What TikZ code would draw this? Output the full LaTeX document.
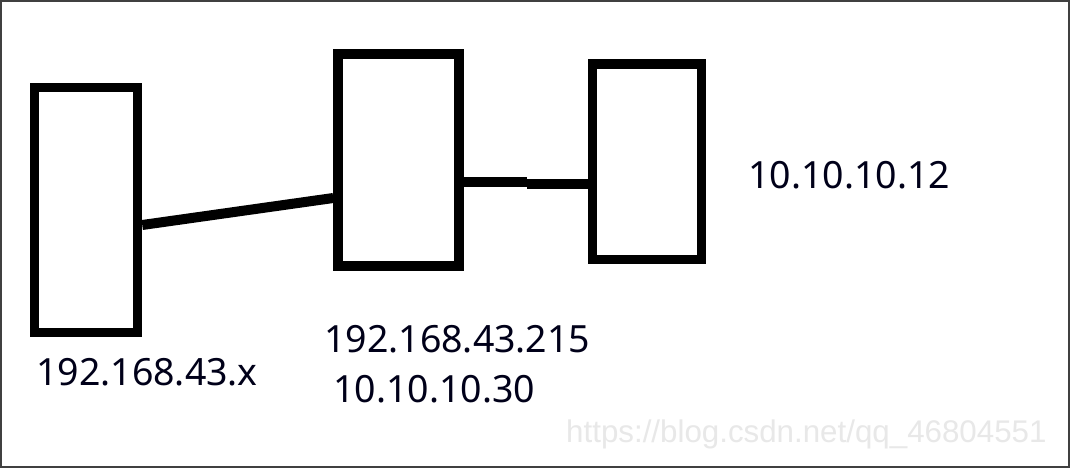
\documentclass[tikz,border=0pt]{standalone}
\usepackage{fontspec}
\setmainfont{Noto Sans}
\newfontfamily\wmfont{Liberation Sans}
\begin{document}
\begin{tikzpicture}[x=1pt,y=-1pt,
  devbox/.style={draw=black,line width=9.5pt,inner sep=0pt,fill=white},
  link/.style={draw=black,line width=10pt},
  iplabel/.style={anchor=base west,inner sep=0pt,font=\fontsize{37.5}{40}\selectfont,text=black!90!blue},
  wm/.style={anchor=base west,inner sep=0pt,font=\wmfont\fontsize{31.3}{34}\selectfont,text=black!9}]
\useasboundingbox (0,0) rectangle (1070,468);
\fill[white] (0,0) rectangle (1070,468);
\draw[line width=2pt,draw=black!75] (1,1) rectangle (1069,467);
% boxes
\node[devbox,minimum width=103pt,minimum height=245pt] (b1) at (86,210) {};
\node[devbox,minimum width=121pt,minimum height=212pt] (b2) at (398.5,160) {};
\node[devbox,minimum width=109pt,minimum height=195.5pt] (b3) at (647,161.75) {};
% connectors
\coordinate (c1a) at (137.5,225);
\coordinate (c1b) at (338,198);
\draw[link] (b1.east |- c1a) -- (b2.west |- c1b);
\coordinate (c2a) at (459,181.5);
\coordinate (c2m) at (527,181.5);
\coordinate (c2n) at (527,184);
\coordinate (c2b) at (592.5,184);
\draw[link] (b2.east |- c2a) -- (c2m);
\draw[link] (c2n) -- (b3.west |- c2b);
% labels
\node[iplabel] (l1) at (36,385) {192.168.43.x};
\node[iplabel] (l2) at (324,352) {192.168.43.215};
\node[iplabel] (l3) at (333,402) {10.10.10.30};
\node[iplabel] (l4) at (748,188) {10.10.10.12};
% watermark
\node[wm] (w) at (566,442) {https://blog.csdn.net/qq\_46804551};
\end{tikzpicture}
\end{document}
